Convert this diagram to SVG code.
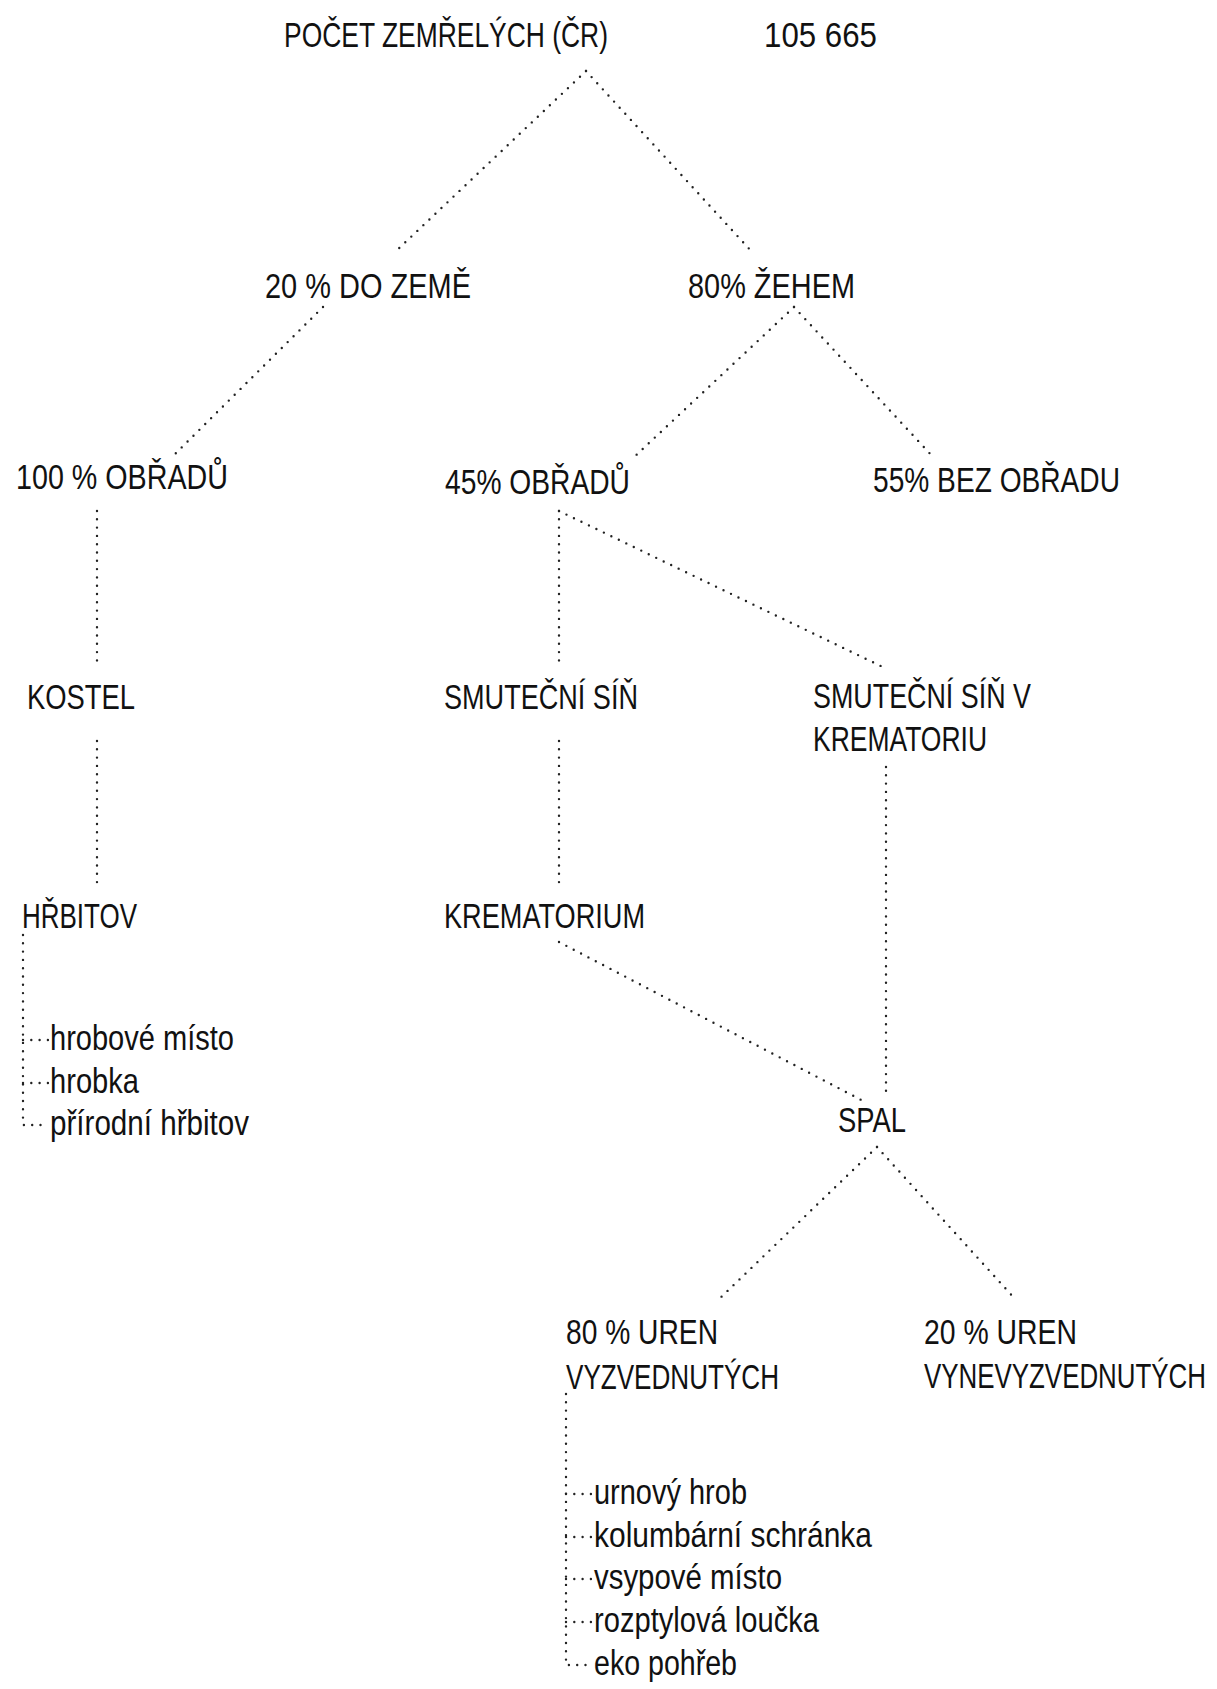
<svg xmlns="http://www.w3.org/2000/svg" width="1217" height="1689" viewBox="0 0 1217 1689">
<style>
text{font-family:"Liberation Sans Narrow","Liberation Sans",Arial,sans-serif;font-size:35px;fill:#111;}
.c line,.c polyline{stroke:#222;stroke-width:2.4;stroke-dasharray:0 8.3;stroke-linecap:round;fill:none;}
</style>
<rect width="1217" height="1689" fill="#fff"/>
<g class="c" id="connectors">
<line x1="586" y1="71" x2="394" y2="253"/>
<line x1="586" y1="71" x2="753" y2="253"/>
<line x1="323" y1="307" x2="170" y2="459"/>
<line x1="794" y1="307" x2="632" y2="459"/>
<line x1="794" y1="307" x2="934" y2="458"/>
<line x1="97" y1="511" x2="97" y2="668"/>
<line x1="97" y1="741" x2="97" y2="885"/>
<polyline points="23,935 23,1125 48,1125"/>
<line x1="23" y1="1040" x2="48" y2="1040"/>
<line x1="23" y1="1083" x2="48" y2="1083"/>
<line x1="559" y1="511" x2="559" y2="668"/>
<line x1="559" y1="511" x2="887" y2="669"/>
<line x1="559" y1="741" x2="559" y2="885"/>
<line x1="559" y1="942" x2="867" y2="1103"/>
<line x1="886" y1="767" x2="886" y2="1096"/>
<line x1="877" y1="1147" x2="716" y2="1302"/>
<line x1="877" y1="1147" x2="1016" y2="1300"/>
<polyline points="566,1394 566,1665 591,1665"/>
<line x1="566" y1="1494" x2="591" y2="1494"/>
<line x1="566" y1="1537" x2="591" y2="1537"/>
<line x1="566" y1="1579" x2="591" y2="1579"/>
<line x1="566" y1="1622" x2="591" y2="1622"/>
</g>
<g id="n-root"><text x="284" y="47" textLength="324" lengthAdjust="spacingAndGlyphs">POČET ZEMŘELÝCH (ČR)</text><text x="764" y="47" textLength="113" lengthAdjust="spacingAndGlyphs">105 665</text></g>
<g id="n-zeme"><text x="265" y="298" textLength="206" lengthAdjust="spacingAndGlyphs">20 % DO ZEMĚ</text></g>
<g id="n-zehem"><text x="688" y="298" textLength="167" lengthAdjust="spacingAndGlyphs">80% ŽEHEM</text></g>
<g id="n-obradu100"><text x="16" y="489" textLength="212" lengthAdjust="spacingAndGlyphs">100 % OBŘADŮ</text></g>
<g id="n-obradu45"><text x="445" y="494" textLength="185" lengthAdjust="spacingAndGlyphs">45% OBŘADŮ</text></g>
<g id="n-bez"><text x="873" y="492" textLength="247" lengthAdjust="spacingAndGlyphs">55% BEZ OBŘADU</text></g>
<g id="n-kostel"><text x="27" y="709" textLength="108" lengthAdjust="spacingAndGlyphs">KOSTEL</text></g>
<g id="n-sin"><text x="444" y="709" textLength="194" lengthAdjust="spacingAndGlyphs">SMUTEČNÍ SÍŇ</text></g>
<g id="n-sinkrem"><text x="813" y="708" textLength="218" lengthAdjust="spacingAndGlyphs">SMUTEČNÍ SÍŇ V</text><text x="813" y="751" textLength="174" lengthAdjust="spacingAndGlyphs">KREMATORIU</text></g>
<g id="n-hrbitov"><text x="22" y="928" textLength="115" lengthAdjust="spacingAndGlyphs">HŘBITOV</text></g>
<g id="n-krematorium"><text x="444" y="928" textLength="201" lengthAdjust="spacingAndGlyphs">KREMATORIUM</text></g>
<g id="n-hrob-list"><text x="50" y="1050" textLength="184" lengthAdjust="spacingAndGlyphs">hrobové místo</text><text x="50" y="1093" textLength="89" lengthAdjust="spacingAndGlyphs">hrobka</text><text x="50" y="1135" textLength="199" lengthAdjust="spacingAndGlyphs">přírodní hřbitov</text></g>
<g id="n-spal"><text x="838" y="1132" textLength="68" lengthAdjust="spacingAndGlyphs">SPAL</text></g>
<g id="n-vyzv"><text x="566" y="1344" textLength="152" lengthAdjust="spacingAndGlyphs">80 % UREN</text><text x="566" y="1389" textLength="213" lengthAdjust="spacingAndGlyphs">VYZVEDNUTÝCH</text></g>
<g id="n-nevyzv"><text x="924" y="1344" textLength="153" lengthAdjust="spacingAndGlyphs">20 % UREN</text><text x="924" y="1388" textLength="282" lengthAdjust="spacingAndGlyphs">VYNEVYZVEDNUTÝCH</text></g>
<g id="n-urn-list"><text x="594" y="1504" textLength="153" lengthAdjust="spacingAndGlyphs">urnový hrob</text><text x="594" y="1547" textLength="278" lengthAdjust="spacingAndGlyphs">kolumbární schránka</text><text x="594" y="1589" textLength="188" lengthAdjust="spacingAndGlyphs">vsypové místo</text><text x="594" y="1632" textLength="225" lengthAdjust="spacingAndGlyphs">rozptylová loučka</text><text x="594" y="1675" textLength="143" lengthAdjust="spacingAndGlyphs">eko pohřeb</text></g>
</svg>
